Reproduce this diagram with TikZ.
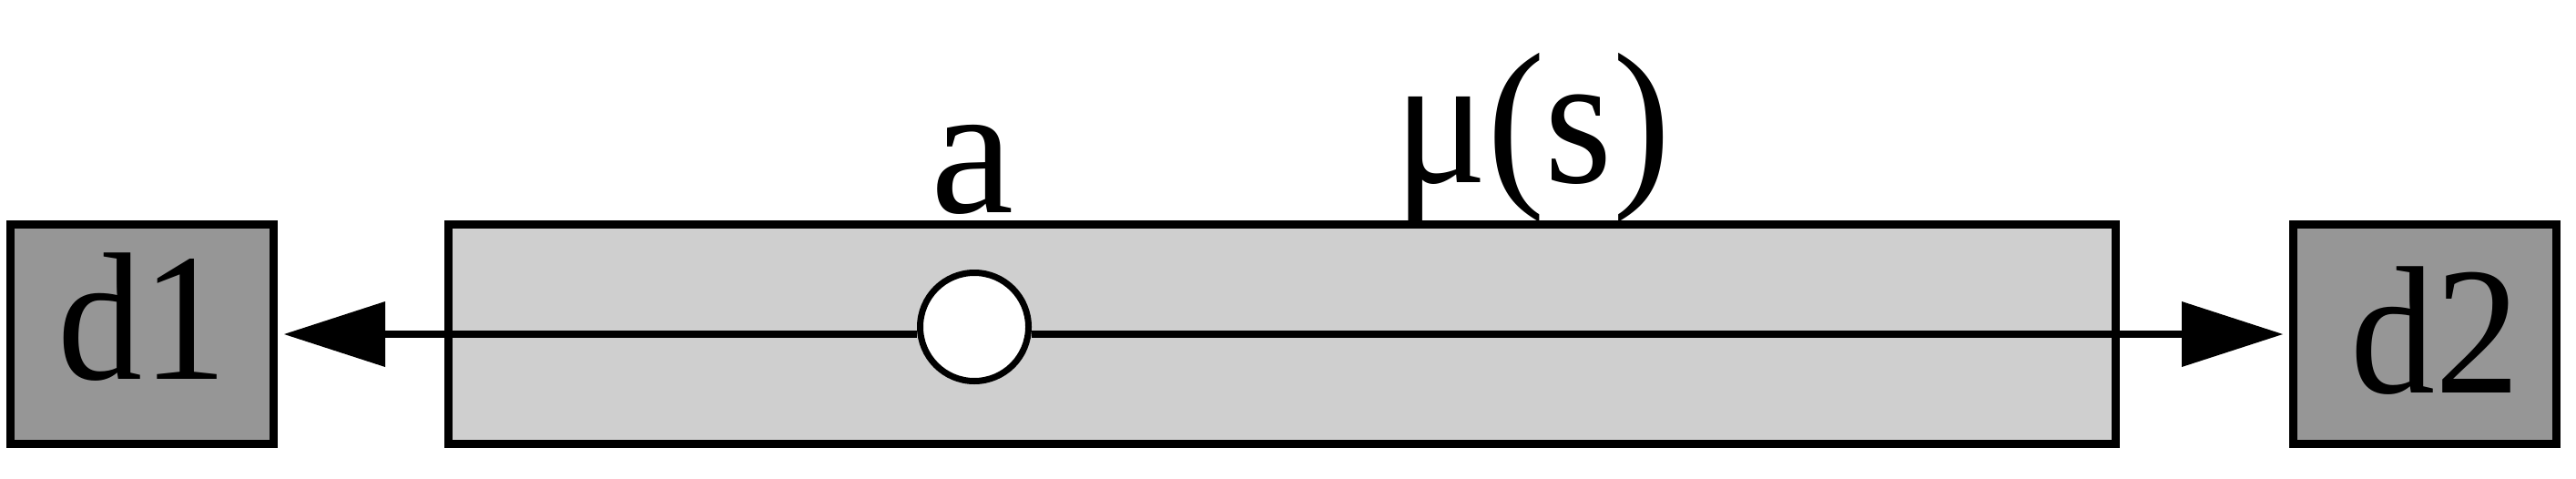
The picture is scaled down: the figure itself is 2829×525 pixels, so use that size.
\documentclass[tikz,border=0pt]{standalone}
\usepackage{fontspec}
\usepackage{graphicx}
\setmainfont{Liberation Serif}
\usetikzlibrary{arrows.meta}
\definecolor{dgray}{RGB}{150,150,150}
\definecolor{lgray}{RGB}{207,207,207}
\newcommand\boxlabfont{\fontsize{200}{200}\selectfont}
\newcommand\toplabfont{\fontsize{205}{205}\selectfont}
\newcommand\narrowtext[1]{\scalebox{0.93}[1]{#1}}
\tikzset{
  dbox/.style={draw=black, line width=9pt, fill=dgray, minimum width=289pt,
    minimum height=241pt, inner sep=0pt, font=\boxlabfont},
  mainbox/.style={draw=black, line width=9pt, fill=lgray, minimum width=1831pt,
    minimum height=241pt, inner sep=0pt},
  port/.style={circle, draw=black, line width=7pt, fill=white, minimum size=119pt, inner sep=0pt},
  toplab/.style={font=\toplabfont, inner sep=0pt},
  conn/.style={line width=8pt, -{Triangle[length=111pt,width=72pt,line width=0pt]}, shorten >=7pt}
}
\begin{document}
\begin{tikzpicture}[x=1pt,y=-1pt]
\useasboundingbox (0,0) rectangle (2829,525);
\node[mainbox] (main) at (1408,367) {};
\node[dbox, text depth=40pt] (d1) at (156,367) {\narrowtext{d1}};
\node[dbox, text depth=10pt] (d2) at (2663,367) {\narrowtext{\kern24pt d2}};
\node[port] (a) at (1070,359) {};
\node[toplab, anchor=base] (alab) at (1068,233) {a};
\node[toplab, anchor=base west] (mulab) at (1531,200) {\narrowtext{μ(s)}};
\draw[conn] (a.west |- d1.east) -- (d1.east);
\draw[conn] (a.east |- d2.west) -- (d2.west);
\end{tikzpicture}
\end{document}
